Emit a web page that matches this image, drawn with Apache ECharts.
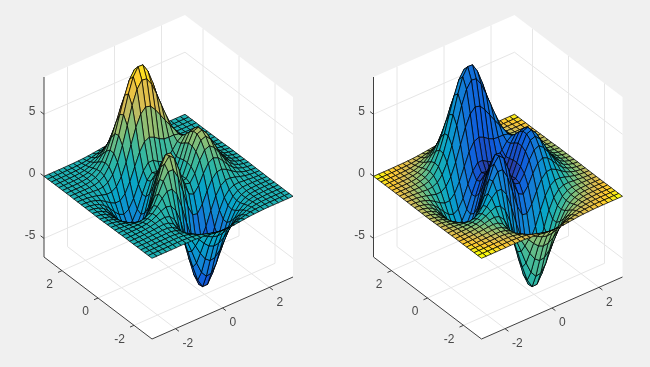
<!DOCTYPE html>
<html>
<head>
<meta charset="utf-8">
<title>peaks surface</title>
<script src="https://cdn.jsdelivr.net/npm/echarts@6/dist/echarts.min.js"></script>
<style>
  html, body { margin: 0; padding: 0; background: #f0f0f0; }
  #main { width: 650px; height: 367px; }
</style>
</head>
<body>
<div id="main"></div>
<script>
var xValues = [-3, -2.7931, -2.5862, -2.3793, -2.1724, -1.9655, -1.7586, -1.5517, -1.3448, -1.1379, -0.931, -0.7241, -0.5172, -0.3103, -0.1034, 0.1034, 0.3103, 0.5172, 0.7241, 0.931, 1.1379, 1.3448, 1.5517, 1.7586, 1.9655, 2.1724, 2.3793, 2.5862, 2.7931, 3];
var yValues = [-3, -2.7931, -2.5862, -2.3793, -2.1724, -1.9655, -1.7586, -1.5517, -1.3448, -1.1379, -0.931, -0.7241, -0.5172, -0.3103, -0.1034, 0.1034, 0.3103, 0.5172, 0.7241, 0.931, 1.1379, 1.3448, 1.5517, 1.7586, 1.9655, 2.1724, 2.3793, 2.5862, 2.7931, 3];

// heights, one row per y. worked out by hand to fit the picture, parts hidden
// behind the peaks are filled in from the shape of this well known surface
var zRows = [
  [0, 0, 0, 0, 0, 0, 0.01, 0, 0, -0.01, -0.04, -0.08, -0.13, -0.19, -0.23, -0.25, -0.25, -0.22, -0.17, -0.13, -0.08, -0.05, -0.03, -0.01, 0, 0, 0, 0, 0, 0],
  [0, 0, 0, 0, 0, 0.01, 0.01, 0.01, -0.01, -0.04, -0.1, -0.2, -0.32, -0.44, -0.54, -0.59, -0.58, -0.51, -0.41, -0.29, -0.19, -0.11, -0.06, -0.03, -0.01, 0, 0, 0, 0, 0],
  [0, 0, 0, 0, 0.01, 0.01, 0.02, 0.01, -0.02, -0.1, -0.23, -0.43, -0.68, -0.93, -1.13, -1.23, -1.2, -1.06, -0.84, -0.6, -0.39, -0.23, -0.12, -0.06, -0.02, -0.01, 0, 0, 0, 0],
  [0, 0, 0, 0.01, 0.01, 0.02, 0.03, 0.01, -0.05, -0.18, -0.42, -0.79, -1.24, -1.71, -2.09, -2.27, -2.22, -1.95, -1.55, -1.11, -0.71, -0.41, -0.22, -0.1, -0.04, -0.02, 0, 0, 0, 0],
  [0, 0, 0, 0.01, 0.02, 0.03, 0.04, 0.03, -0.06, -0.27, -0.65, -1.23, -1.97, -2.74, -3.36, -3.67, -3.6, -3.17, -2.51, -1.79, -1.15, -0.66, -0.34, -0.16, -0.06, -0.02, -0.01, 0, 0, 0],
  [0, 0, 0.01, 0.02, 0.03, 0.05, 0.08, 0.07, -0.03, -0.29, -0.8, -1.6, -2.64, -3.75, -4.67, -5.16, -5.09, -4.5, -3.56, -2.53, -1.61, -0.91, -0.46, -0.2, -0.07, -0.02, 0, 0, 0, 0],
  [0, 0, 0.01, 0.02, 0.04, 0.08, 0.12, 0.15, 0.09, -0.15, -0.7, -1.63, -2.9, -4.3, -5.52, -6.23, -6.22, -5.53, -4.38, -3.09, -1.93, -1.06, -0.5, -0.2, -0.06, -0.01, 0.01, 0.01, 0, 0],
  [0, 0, 0, 0.01, 0.04, 0.09, 0.17, 0.27, 0.32, 0.22, -0.2, -1.05, -2.35, -3.9, -5.34, -6.28, -6.43, -5.78, -4.57, -3.16, -1.9, -0.97, -0.39, -0.1, 0.01, 0.03, 0.03, 0.02, 0.01, 0],
  [0, 0, 0, 0, 0.02, 0.07, 0.18, 0.37, 0.59, 0.75, 0.66, 0.14, -0.91, -2.38, -3.92, -5.06, -5.45, -5, -3.92, -2.6, -1.4, -0.55, -0.07, 0.12, 0.15, 0.11, 0.07, 0.03, 0.01, 0.01],
  [-0.01, -0.01, -0.02, -0.04, -0.05, -0.02, 0.1, 0.34, 0.74, 1.23, 1.61, 1.62, 1.04, -0.13, -1.61, -2.91, -3.57, -3.41, -2.59, -1.48, -0.48, 0.17, 0.45, 0.47, 0.36, 0.23, 0.13, 0.06, 0.03, 0.01],
  [-0.01, -0.03, -0.06, -0.1, -0.16, -0.2, -0.15, 0.09, 0.59, 1.36, 2.21, 2.8, 2.79, 2.02, 0.71, -0.66, -1.53, -1.62, -1.03, -0.14, 0.64, 1.07, 1.11, 0.92, 0.63, 0.38, 0.2, 0.09, 0.04, 0.01],
  [-0.02, -0.04, -0.1, -0.19, -0.33, -0.48, -0.57, -0.45, 0.04, 0.94, 2.12, 3.19, 3.68, 3.32, 2.21, 0.87, -0.08, -0.27, 0.24, 1.05, 1.71, 1.96, 1.8, 1.39, 0.92, 0.54, 0.28, 0.13, 0.05, 0.02],
  [-0.02, -0.06, -0.14, -0.29, -0.52, -0.82, -1.1, -1.18, -0.84, 0.04, 1.35, 2.71, 3.56, 3.51, 2.62, 1.39, 0.5, 0.39, 0.99, 1.88, 2.54, 2.71, 2.4, 1.82, 1.2, 0.7, 0.36, 0.17, 0.07, 0.03],
  [-0.03, -0.08, -0.18, -0.38, -0.7, -1.15, -1.62, -1.93, -1.81, -1.07, 0.24, 1.72, 2.78, 2.96, 2.26, 1.19, 0.46, 0.53, 1.32, 2.36, 3.1, 3.25, 2.85, 2.14, 1.41, 0.82, 0.42, 0.2, 0.08, 0.03],
  [-0.04, -0.09, -0.21, -0.44, -0.83, -1.38, -2.01, -2.51, -2.59, -2.02, -0.81, 0.68, 1.84, 2.18, 1.66, 0.78, 0.23, 0.47, 1.42, 2.58, 3.38, 3.53, 3.09, 2.32, 1.52, 0.88, 0.46, 0.21, 0.09, 0.03],
  [-0.04, -0.09, -0.22, -0.46, -0.87, -1.46, -2.16, -2.77, -3, -2.59, -1.52, -0.12, 1.04, 1.47, 1.11, 0.42, 0.04, 0.39, 1.4, 2.58, 3.38, 3.52, 3.07, 2.31, 1.51, 0.88, 0.45, 0.21, 0.09, 0.03],
  [-0.03, -0.09, -0.21, -0.43, -0.82, -1.39, -2.08, -2.71, -3, -2.71, -1.82, -0.58, 0.49, 0.94, 0.72, 0.19, -0.06, 0.33, 1.29, 2.37, 3.1, 3.23, 2.82, 2.11, 1.38, 0.8, 0.41, 0.19, 0.08, 0.03],
  [-0.03, -0.07, -0.18, -0.37, -0.71, -1.2, -1.79, -2.35, -2.62, -2.41, -1.66, -0.61, 0.34, 0.79, 0.68, 0.29, 0.12, 0.45, 1.23, 2.11, 2.69, 2.76, 2.39, 1.79, 1.17, 0.68, 0.35, 0.16, 0.07, 0.03],
  [-0.02, -0.06, -0.14, -0.29, -0.54, -0.92, -1.37, -1.77, -1.94, -1.7, -1.01, -0.04, 0.86, 1.36, 1.38, 1.11, 0.93, 1.07, 1.52, 2.04, 2.34, 2.29, 1.94, 1.42, 0.92, 0.53, 0.27, 0.13, 0.05, 0.02],
  [-0.02, -0.04, -0.09, -0.2, -0.37, -0.62, -0.89, -1.09, -1.07, -0.68, 0.11, 1.15, 2.15, 2.82, 3.01, 2.84, 2.55, 2.36, 2.32, 2.33, 2.24, 1.97, 1.56, 1.11, 0.7, 0.4, 0.2, 0.09, 0.04, 0.01],
  [-0.01, -0.03, -0.06, -0.12, -0.21, -0.33, -0.44, -0.42, -0.17, 0.45, 1.44, 2.68, 3.91, 4.82, 5.22, 5.12, 4.66, 4.07, 3.47, 2.91, 2.37, 1.83, 1.32, 0.87, 0.52, 0.29, 0.14, 0.06, 0.03, 0.01],
  [-0.01, -0.01, -0.03, -0.06, -0.09, -0.12, -0.08, 0.11, 0.56, 1.38, 2.57, 4.01, 5.45, 6.58, 7.15, 7.09, 6.49, 5.56, 4.49, 3.46, 2.53, 1.76, 1.15, 0.71, 0.4, 0.21, 0.1, 0.04, 0.02, 0.01],
  [0, -0.01, -0.01, -0.02, -0.01, 0.02, 0.14, 0.43, 0.99, 1.89, 3.15, 4.65, 6.16, 7.37, 8.02, 7.99, 7.32, 6.22, 4.92, 3.64, 2.52, 1.65, 1.01, 0.58, 0.31, 0.15, 0.07, 0.03, 0.01, 0],
  [0, 0, 0, 0, 0.02, 0.09, 0.23, 0.54, 1.08, 1.92, 3.08, 4.45, 5.82, 6.94, 7.56, 7.55, 6.92, 5.86, 4.58, 3.33, 2.25, 1.41, 0.83, 0.45, 0.23, 0.11, 0.05, 0.02, 0.01, 0],
  [0, 0, 0, 0.01, 0.03, 0.09, 0.23, 0.48, 0.93, 1.61, 2.53, 3.61, 4.7, 5.6, 6.09, 6.09, 5.59, 4.72, 3.68, 2.64, 1.76, 1.08, 0.62, 0.33, 0.16, 0.07, 0.03, 0.01, 0, 0],
  [0, 0, 0, 0.01, 0.03, 0.08, 0.17, 0.36, 0.67, 1.15, 1.79, 2.54, 3.3, 3.92, 4.27, 4.27, 3.92, 3.31, 2.57, 1.84, 1.21, 0.74, 0.42, 0.22, 0.1, 0.05, 0.02, 0.01, 0, 0],
  [0, 0, 0, 0.01, 0.02, 0.05, 0.11, 0.23, 0.42, 0.71, 1.11, 1.57, 2.03, 2.41, 2.63, 2.62, 2.41, 2.03, 1.58, 1.12, 0.74, 0.45, 0.25, 0.13, 0.06, 0.03, 0.01, 0, 0, 0],
  [0, 0, 0, 0, 0.01, 0.03, 0.06, 0.13, 0.23, 0.39, 0.6, 0.85, 1.1, 1.31, 1.43, 1.43, 1.31, 1.1, 0.85, 0.61, 0.4, 0.24, 0.13, 0.07, 0.03, 0.01, 0.01, 0, 0, 0],
  [0, 0, 0, 0, 0.01, 0.01, 0.03, 0.06, 0.11, 0.19, 0.29, 0.41, 0.53, 0.63, 0.69, 0.69, 0.63, 0.53, 0.41, 0.29, 0.19, 0.12, 0.06, 0.03, 0.02, 0.01, 0, 0, 0, 0],
  [0, 0, 0, 0, 0, 0.01, 0.01, 0.03, 0.05, 0.08, 0.13, 0.18, 0.23, 0.27, 0.3, 0.3, 0.27, 0.23, 0.18, 0.13, 0.08, 0.05, 0.03, 0.01, 0.01, 0, 0, 0, 0, 0]
];

var xTicks = [-2, 0, 2];
var yTicks = [-2, 0, 2];
var zTicks = [-5, 0, 5];

var parula = ['#352a87', '#0f5cdd', '#1481d6', '#06a4ca', '#2eb7a4', '#87bf77', '#d1bb59', '#fec832', '#f9fb0e'];

var xLim = [-3, 3];
var yLim = [-3, 3];
var zLim = [-6.5, 8];

// oblique view: axis units to the flat coordinates of the hidden value axes
var boxW = 249, boxH = 324;
var xRun = 141, xRise = 62, yRun = 108, yRise = 82, zRise = 180;

function project(x, y, z) {
  var px = (x - xLim[0]) / (xLim[1] - xLim[0]);
  var py = (y - yLim[0]) / (yLim[1] - yLim[0]);
  var pz = (z - zLim[0]) / (zLim[1] - zLim[0]);
  return [yRun + px * xRun - py * yRun, px * xRise + py * yRise + pz * zRise];
}

function parulaColor(t) {
  t = Math.max(0, Math.min(1, t));
  return echarts.color.lerp(t, parula);
}

// left: colour follows height
function heightColor(x, y, z) {
  return parulaColor((z + 6.8) / 15);
}

// right: colour follows the distance from the centre of the plane
function radiusColor(x, y, z) {
  var r = Math.sqrt(x * x + y * y);
  return parulaColor((r - 0.3) / 3.8 - z * 0.012);
}

// far cells first so nearer ones paint over them
var cells = [];
for (var j = 0; j < yValues.length - 1; j++) {
  for (var i = 0; i < xValues.length - 1; i++) {
    cells.push([i, j]);
  }
}
cells.sort(function (a, b) {
  return (0.608 * xValues[b[0]] + 0.794 * yValues[b[1]]) - (0.608 * xValues[a[0]] + 0.794 * yValues[a[1]]);
});

function renderCell(colorFn) {
  return function (params, api) {
    var i = api.value(0);
    var j = api.value(1);
    var corners = [[i, j], [i + 1, j], [i + 1, j + 1], [i, j + 1]];
    var points = corners.map(function (c) {
      return api.coord(project(xValues[c[0]], yValues[c[1]], zRows[c[1]][c[0]]));
    });
    return {
      type: 'polygon',
      shape: { points: points },
      style: {
        fill: colorFn(xValues[i], yValues[j], zRows[j][i]),
        stroke: 'rgba(0,0,0,0.82)',
        lineWidth: 0.9
      }
    };
  };
}

function seg(api, a, b, color, width) {
  var p = api.coord(project(a[0], a[1], a[2]));
  var q = api.coord(project(b[0], b[1], b[2]));
  return {
    type: 'line',
    shape: { x1: p[0], y1: p[1], x2: q[0], y2: q[1] },
    style: { stroke: color, lineWidth: width }
  };
}

function label(api, at, text, align, dx, dy) {
  var p = api.coord(project(at[0], at[1], at[2]));
  return {
    type: 'text',
    style: {
      x: p[0] + dx, y: p[1] + dy, text: text, textAlign: align, textVerticalAlign: 'middle',
      fill: '#4a4a4a', font: '12px "Liberation Sans", Arial, sans-serif'
    }
  };
}

function renderFrame(params, api) {
  var x0 = xLim[0], x1 = xLim[1], y0 = yLim[0], y1 = yLim[1], z0 = zLim[0], z1 = zLim[1];
  var outline = [[x0, y1, z1], [x1, y1, z1], [x1, y0, z1], [x1, y0, z0], [x0, y0, z0], [x0, y1, z0]];
  var children = [{
    type: 'polygon',
    shape: { points: outline.map(function (c) { return api.coord(project(c[0], c[1], c[2])); }) },
    style: { fill: '#ffffff' }
  }];
  var grid = '#e6e6e6', ink = '#404040';

  xTicks.forEach(function (x) {
    children.push(seg(api, [x, y0, z0], [x, y1, z0], grid, 1));
    children.push(seg(api, [x, y1, z0], [x, y1, z1], grid, 1));
  });
  yTicks.forEach(function (y) {
    children.push(seg(api, [x0, y, z0], [x1, y, z0], grid, 1));
    children.push(seg(api, [x1, y, z0], [x1, y, z1], grid, 1));
  });
  zTicks.forEach(function (z) {
    children.push(seg(api, [x0, y1, z], [x1, y1, z], grid, 1));
    children.push(seg(api, [x1, y1, z], [x1, y0, z], grid, 1));
  });

  children.push(seg(api, [x0, y1, z1], [x0, y1, z0], ink, 1));
  children.push(seg(api, [x0, y1, z0], [x0, y0, z0], ink, 1));
  children.push(seg(api, [x0, y0, z0], [x1, y0, z0], ink, 1));

  xTicks.forEach(function (x) {
    children.push(seg(api, [x, y0, z0], [x, y0 - 0.19, z0], ink, 1));
    children.push(label(api, [x, y0, z0], String(x), 'left', 7, 15));
  });
  yTicks.forEach(function (y) {
    children.push(seg(api, [x0, y, z0], [x0 - 0.17, y, z0], ink, 1));
    children.push(label(api, [x0, y, z0], String(y), 'right', -9, 14));
  });
  zTicks.forEach(function (z) {
    children.push(seg(api, [x0, y1, z], [x0, y1 + 0.19, z], ink, 1));
    children.push(label(api, [x0, y1, z], String(z), 'right', -8.5, -3));
  });
  return { type: 'group', children: children };
}

var panelLefts = [44, 373.5];
var colorFns = [heightColor, radiusColor];
var grids = [], xAxes = [], yAxes = [], series = [];

panelLefts.forEach(function (left, k) {
  grids.push({ left: left, top: 15, width: boxW, height: boxH });
  xAxes.push({ type: 'value', gridIndex: k, min: 0, max: boxW, show: false });
  yAxes.push({ type: 'value', gridIndex: k, min: 0, max: boxH, show: false });
  series.push({
    type: 'custom', xAxisIndex: k, yAxisIndex: k, silent: true, clip: false,
    data: [[0, 0]], renderItem: renderFrame
  });
  series.push({
    type: 'custom', xAxisIndex: k, yAxisIndex: k, silent: true, clip: false, progressive: 0,
    data: cells, renderItem: renderCell(colorFns[k])
  });
});

var chart = echarts.init(document.getElementById('main'));
chart.setOption({
  backgroundColor: '#f0f0f0',
  animation: false,
  grid: grids,
  xAxis: xAxes,
  yAxis: yAxes,
  series: series
});
</script>
</body>
</html>
